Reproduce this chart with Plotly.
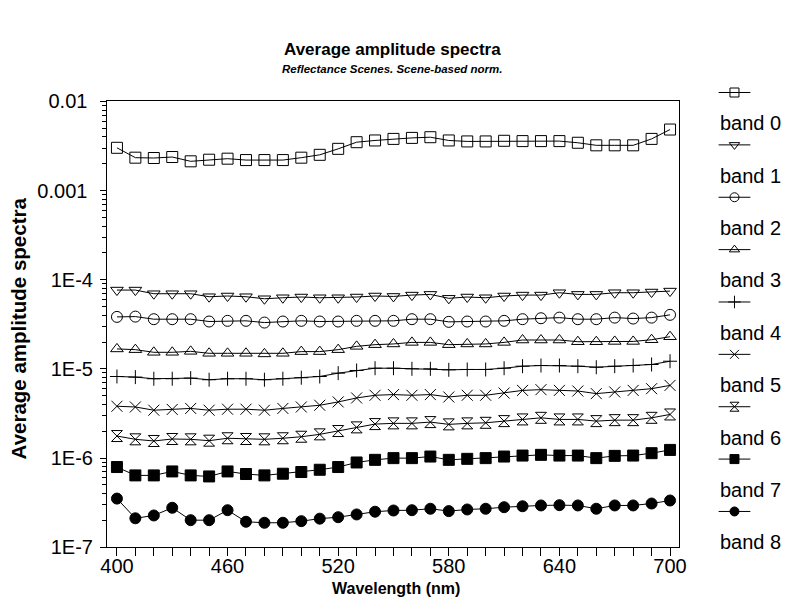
import plotly.graph_objects as go

# ---------------- data ----------------
wavelength = list(range(400, 701, 10))

band0 = [0.00302, 0.00234, 0.00232, 0.00238, 0.00213, 0.00222, 0.00228, 0.00220, 0.00220, 0.00220,
         0.00234, 0.00252, 0.00294, 0.00349, 0.00365, 0.00380, 0.00390, 0.00397, 0.00365, 0.00356,
         0.00356, 0.00362, 0.00359, 0.00359, 0.00359, 0.00344, 0.00322, 0.00322, 0.00322, 0.00380, 0.00484]
band1 = [7.66e-5, 7.66e-5, 6.97e-5, 6.97e-5, 6.97e-5, 6.45e-5, 6.57e-5, 6.45e-5, 6.12e-5, 6.28e-5,
         6.40e-5, 6.28e-5, 6.28e-5, 6.40e-5, 6.57e-5, 6.50e-5, 6.73e-5, 6.85e-5, 6.19e-5, 6.40e-5,
         6.28e-5, 6.57e-5, 6.73e-5, 6.73e-5, 7.15e-5, 6.85e-5, 6.85e-5, 7.15e-5, 7.15e-5, 7.28e-5, 7.46e-5]
band2 = [3.83e-5, 3.86e-5, 3.61e-5, 3.61e-5, 3.61e-5, 3.40e-5, 3.46e-5, 3.46e-5, 3.31e-5, 3.40e-5,
         3.46e-5, 3.40e-5, 3.40e-5, 3.46e-5, 3.46e-5, 3.46e-5, 3.61e-5, 3.61e-5, 3.37e-5, 3.40e-5,
         3.40e-5, 3.46e-5, 3.61e-5, 3.70e-5, 3.76e-5, 3.61e-5, 3.61e-5, 3.76e-5, 3.67e-5, 3.76e-5, 4.04e-5]
band3 = [1.675e-5, 1.644e-5, 1.535e-5, 1.535e-5, 1.574e-5, 1.496e-5, 1.496e-5, 1.496e-5, 1.473e-5, 1.496e-5,
         1.563e-5, 1.563e-5, 1.644e-5, 1.791e-5, 1.870e-5, 1.905e-5, 1.983e-5, 1.983e-5, 1.870e-5, 1.905e-5,
         1.905e-5, 1.983e-5, 2.109e-5, 2.109e-5, 2.109e-5, 2.018e-5, 2.018e-5, 2.033e-5, 2.033e-5, 2.124e-5, 2.295e-5]
band4 = [8.22e-6, 8.09e-6, 7.76e-6, 7.76e-6, 7.88e-6, 7.56e-6, 7.76e-6, 7.76e-6, 7.56e-6, 7.76e-6,
         7.96e-6, 8.22e-6, 8.96e-6, 9.60e-6, 1.018e-5, 1.018e-5, 1.002e-5, 1.002e-5, 9.77e-6, 9.85e-6,
         9.85e-6, 1.018e-5, 1.072e-5, 1.091e-5, 1.091e-5, 1.072e-5, 1.044e-5, 1.072e-5, 1.091e-5, 1.120e-5, 1.219e-5]
band5 = [3.81e-6, 3.74e-6, 3.44e-6, 3.51e-6, 3.60e-6, 3.44e-6, 3.53e-6, 3.53e-6, 3.44e-6, 3.60e-6,
         3.74e-6, 3.91e-6, 4.26e-6, 4.72e-6, 5.06e-6, 5.15e-6, 5.06e-6, 5.15e-6, 4.84e-6, 5.06e-6,
         5.06e-6, 5.36e-6, 5.74e-6, 5.85e-6, 5.74e-6, 5.65e-6, 5.28e-6, 5.51e-6, 5.74e-6, 6.00e-6, 6.53e-6]
band6 = [1.766e-6, 1.622e-6, 1.554e-6, 1.636e-6, 1.622e-6, 1.566e-6, 1.667e-6, 1.636e-6, 1.622e-6, 1.667e-6,
         1.734e-6, 1.844e-6, 2.009e-6, 2.209e-6, 2.404e-6, 2.449e-6, 2.449e-6, 2.532e-6, 2.387e-6, 2.449e-6,
         2.485e-6, 2.596e-6, 2.712e-6, 2.827e-6, 2.712e-6, 2.712e-6, 2.596e-6, 2.662e-6, 2.662e-6, 2.827e-6, 3.083e-6]
band7 = [7.93e-7, 6.39e-7, 6.39e-7, 7.08e-7, 6.39e-7, 6.22e-7, 7.08e-7, 6.62e-7, 6.39e-7, 6.67e-7,
         6.97e-7, 7.39e-7, 7.93e-7, 8.92e-7, 9.55e-7, 9.98e-7, 9.98e-7, 1.040e-6, 9.55e-7, 9.80e-7,
         9.98e-7, 1.040e-6, 1.066e-6, 1.086e-6, 1.066e-6, 1.066e-6, 9.98e-7, 1.058e-6, 1.066e-6, 1.134e-6, 1.234e-6]
band8 = [3.51e-7, 2.11e-7, 2.27e-7, 2.77e-7, 2.01e-7, 2.01e-7, 2.60e-7, 1.93e-7, 1.88e-7, 1.88e-7,
         1.96e-7, 2.09e-7, 2.17e-7, 2.33e-7, 2.50e-7, 2.58e-7, 2.60e-7, 2.70e-7, 2.54e-7, 2.65e-7,
         2.70e-7, 2.81e-7, 2.88e-7, 2.94e-7, 2.96e-7, 2.94e-7, 2.70e-7, 2.94e-7, 2.94e-7, 3.09e-7, 3.34e-7]

band_names = ["band 0", "band 1", "band 2", "band 3", "band 4", "band 5", "band 6", "band 7", "band 8"]
band_values = [band0, band1, band2, band3, band4, band5, band6, band7, band8]

y_tick_vals = [1e-2, 1e-3, 1e-4, 1e-5, 1e-6, 1e-7]
y_tick_text = ["0.01\u00a0", "0.001\u00a0", "1E-4", "1E-5", "1E-6", "1E-7"]
x_tick_vals = [400, 460, 520, 580, 640, 700]

# ---------------- styles / layout ----------------
symbols = ["square-open", "triangle-down-open", "circle-open", "triangle-up-open",
           "cross-thin-open", "x-thin-open", "hourglass-open", "square", "circle"]
sizes = [11, 11, 11, 11, 10, 11, 11, 11, 11]
FONT = "Liberation Sans, Arial, sans-serif"
W, H = 788, 611
L, R, T, B = 105, 681, 99, 548        # target plot area (pixels)

# the rendered paper area turned out slightly inset; map target pixels to paper fractions
OX, OY, SX, SY = 4.3, 7.9, 0.988, 0.971
def fx(p):
    return (p - OX) / (SX * W)
def fy(p):
    return 1 - (p - OY) / (SY * H)

fig = go.Figure()
for name, vals, sym, sz in zip(band_names, band_values, symbols, sizes):
    fig.add_trace(go.Scatter(
        x=wavelength, y=vals, name=name, mode="lines+markers",
        line=dict(color="black", width=1),
        marker=dict(symbol=sym, size=sz, color="black",
                    line=dict(color="black", width=1)),
        showlegend=False, xaxis="x", yaxis="y"))

# custom legend (symbol above its label), drawn on a pixel-space overlay axis
leg_x0, leg_x1 = 721, 753
leg_y0, leg_dy, text_dy = 90, 52.75, 30
annotations = []
for i, (name, sym) in enumerate(zip(band_names, symbols)):
    yy = leg_y0 + i * leg_dy
    fig.add_trace(go.Scatter(x=[leg_x0, leg_x1], y=[yy, yy], mode="lines",
                             line=dict(color="black", width=1), showlegend=False,
                             hoverinfo="skip", xaxis="x2", yaxis="y2"))
    fig.add_trace(go.Scatter(x=[(leg_x0 + leg_x1) / 2], y=[yy], mode="markers",
                             marker=dict(symbol=sym, size=9, color="black",
                                         line=dict(color="black", width=1)),
                             showlegend=False, hoverinfo="skip", xaxis="x2", yaxis="y2"))
    annotations.append(dict(text=name, x=fx(leg_x0 - 1), y=fy(yy + text_dy + 1),
                            xref="paper", yref="paper", xanchor="left", yanchor="middle",
                            showarrow=False, font=dict(family=FONT, size=20, color="black")))

annotations += [
    dict(text="<b>Average amplitude spectra</b>", x=fx((L + R) / 2), y=fy(47),
         xref="paper", yref="paper", xanchor="center", yanchor="middle", showarrow=False,
         font=dict(family=FONT, size=17, color="black")),
    dict(text="<b><i>Reflectance Scenes. Scene-based norm.</i></b>", x=fx((L + R) / 2), y=fy(66),
         xref="paper", yref="paper", xanchor="center", yanchor="middle", showarrow=False,
         font=dict(family=FONT, size=11.5, color="black")),
    dict(text="<b>Wavelength (nm)</b>", x=fx((L + R) / 2 + 3), y=fy(590),
         xref="paper", yref="paper", xanchor="center", yanchor="middle", showarrow=False,
         font=dict(family=FONT, size=16, color="black")),
    dict(text="<b>Average amplitude spectra</b>", x=fx(16), y=fy(328), textangle=-90,
         xref="paper", yref="paper", xanchor="center", yanchor="middle", showarrow=False,
         font=dict(family=FONT, size=20.5, color="black")),
]

minor_y = [k * 10.0 ** e for e in range(-7, -2) for k in range(2, 10)]

fig.update_layout(
    width=W, height=H, margin=dict(l=0, r=0, t=0, b=0),
    paper_bgcolor="white", plot_bgcolor="rgba(0,0,0,0)",
    font=dict(family=FONT, size=20, color="black"),
    showlegend=False,
    xaxis=dict(domain=[fx(L), fx(R)], range=[394.6, 704.8], tickmode="array", tickvals=x_tick_vals,
               ticks="outside", ticklen=8, tickwidth=1, tickcolor="black", ticklabelstandoff=-7,
               minor=dict(dtick=10, tick0=400, ticks="outside", ticklen=8, tickcolor="black", showgrid=False),
               showline=True, linecolor="black", linewidth=1, mirror=True,
               showgrid=False, zeroline=False, tickfont=dict(family=FONT, size=20, color="black")),
    yaxis=dict(domain=[fy(B), fy(T)], type="log", range=[-7, -2],
               tickmode="array", tickvals=y_tick_vals, ticktext=y_tick_text,
               ticks="outside", ticklen=6, tickwidth=1, tickcolor="black", ticklabelstandoff=3,
               minor=dict(tickmode="array", tickvals=minor_y, ticks="outside", ticklen=4,
                          tickcolor="black", showgrid=False),
               showline=True, linecolor="black", linewidth=1, mirror=True,
               showgrid=False, zeroline=False, tickfont=dict(family=FONT, size=20, color="black")),
    xaxis2=dict(domain=[0, 1], range=[OX, OX + SX * W], visible=False, anchor="y2"),
    yaxis2=dict(domain=[0, 1], range=[OY + SY * H, OY], visible=False, anchor="x2"),
    annotations=annotations,
)

fig.write_html("out.html", config={"displayModeBar": False},
               post_script="document.body.style.margin='0px';"
                           "document.documentElement.style.overflow='hidden';")
